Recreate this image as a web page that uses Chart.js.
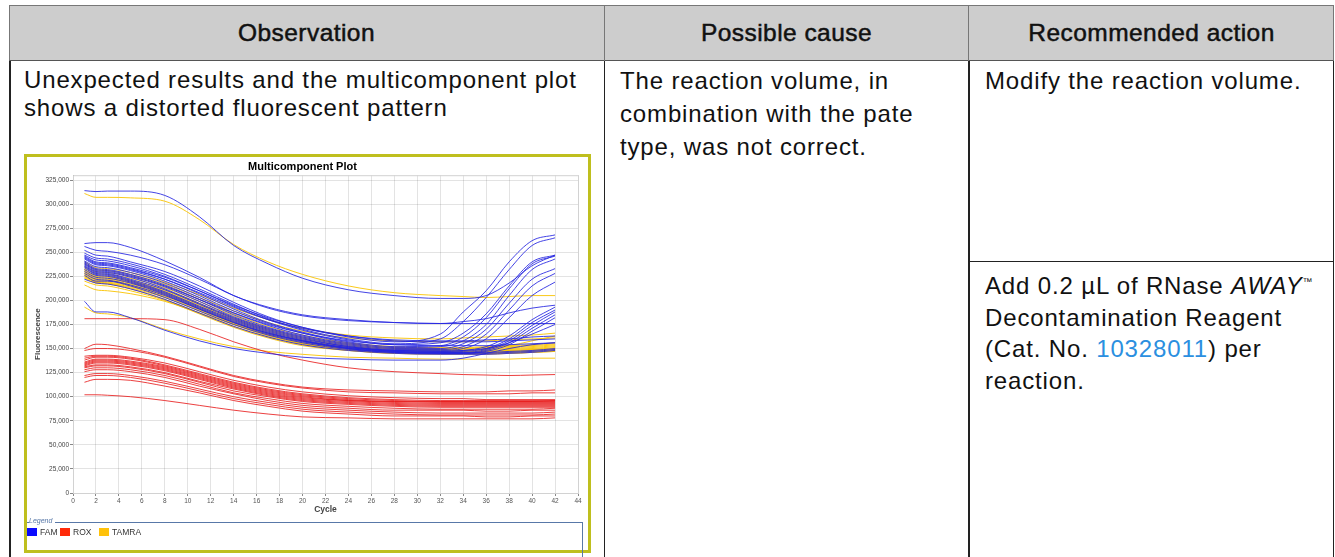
<!DOCTYPE html>
<html>
<head>
<meta charset="utf-8">
<script src="https://cdn.jsdelivr.net/npm/chart.js@4.4.1/dist/chart.umd.min.js"></script>
<style>
  html,body{margin:0;padding:0;background:#fff;}
  body{width:1335px;height:557px;position:relative;overflow:hidden;font-family:"Liberation Sans",Arial,Helvetica,sans-serif;color:#111;}
  .ln{position:absolute;background:#222;}
  .hdr{position:absolute;left:9px;top:5px;width:1325px;height:56px;background:#cdcdcd;box-sizing:border-box;border:1px solid #777;border-bottom:1.5px solid #555;}
  .ht{position:absolute;top:5px;height:56px;line-height:56px;text-align:center;font-size:24.5px;letter-spacing:0.45px;-webkit-text-stroke:0.5px #111;color:#111;}
  .bt{position:absolute;font-size:24px;letter-spacing:0.85px;color:#111;}
  .frame{position:absolute;left:24px;top:154px;width:567px;height:399px;box-sizing:border-box;border:3px solid #bfbf1e;background:#fff;}
  #cv{position:absolute;left:0;top:0;}
  .lgbox{position:absolute;left:0px;top:365px;width:556px;height:40px;box-sizing:border-box;border-top:1.5px solid #5878a8;border-right:1.5px solid #5878a8;}
  .lgtitle{position:absolute;left:2px;top:-6px;background:#fff;padding-right:3px;font-size:7px;font-style:italic;color:#5878a8;}
  .lgitem{position:absolute;top:4px;font-size:8.5px;color:#333;line-height:10px;}
  .sw{display:inline-block;width:10px;height:8px;vertical-align:-1px;margin-right:3px;}
</style>
</head>
<body>
<script>
// ---- data (fluorescence in thousands, sampled at the listed cycles) ----
const cycles = [1,2,3,5,8,11,14,17,20,24,28,32,34,36,38,40,42];
const famK = [
  [314,313,313.5,313.5,309,287,257,238,223,211,205,202,202,205,218,236,247],
  [259,260,260,255,241,224,205,193,185,180,177,176,176,176,176,176,176],
  [256,252,251,247,237,222,205,192,184,179,177,176,178,181,187,192,195],
  [199,188,188,182,169,158,150,145,141,139,138,138,140,145,150,154,156],
  [252,247,246,240,230,215,198,183,172,162,157,165,188,210,240,262,268],
  [249,244,243,238,227,212,196,181,170,160,155,160,178,203,232,257,265],
  [247,242,241,236,225,210,194,180,169,159,154,156,166,186,215,240,247],
  [245,239,238,233,222,207,191,177,167,157,152,153,162,182,212,238,246],
  [243,237,236,231,220,205,189,176,166,156,151,152,158,175,205,232,243],
  [241,235,234,229,218,203,187,174,164,155,150,150,155,170,197,222,233],
  [240,233,232,227,216,201,185,172,163,154,149,149,152,165,190,215,228],
  [238,231,230,225,214,199,183,171,162,153,148,148,150,160,182,205,219],
  [237,230,229,224,212,197,182,170,161,152,148,147,148,152,163,180,193],
  [236,229,228,222,211,196,181,169,160,152,147,146,147,150,160,177,190],
  [235,228,227,221,209,194,180,168,159,151,147,146,146,149,158,174,188],
  [234,227,226,220,208,193,179,167,158,150,146,145,145,148,156,171,185],
  [232,226,225,219,207,192,178,166,158,150,146,145,145,147,154,168,182],
  [244,238,237,232,222,208,193,180,171,163,159,158,158,159,160,162,163],
  [239,232,231,226,215,201,187,175,166,158,154,153,153,153,154,155,156],
  [246,240,239,234,224,210,195,182,172,163,158,157,157,157,158,159,160],
  [230,224,223,218,206,191,177,165,157,150,147,146,146,146,147,148,150],
  [226,220,220,215,203,189,175,164,156,149,146,145,145,145,146,147,149],
  [222,218,217,212,201,187,173,162,154,148,145,144,144,144,145,146,148],
  [228,222,221,216,205,191,177,166,158,151,148,147,148,150,156,165,175]
];
const roxK = [
  [181,181,181,181,180,170,157,146,138,130,126,124,123,122.5,122,122.5,123],
  [150,154.5,154,150,142,132,122,115,110,107,106,105,105,105,106,106,107],
  [148,150,150,148,141,131,121,114,109,105,104,103,103,103,103,104,104],
  [142,143,143,141,135,126,117,110,105,101,99,98,98,97,97,97,97],
  [140,142,142,140,133,124,115,108,103,99,97,96,96,96,96,96,96],
  [138,141,141,139,132,123,114,107,102,98,96,95,95,95,95,95,95],
  [136,139,139,137,131,122,113,106,101,97,95,95,95,95,95,95,96],
  [135,138,138,136,130,121,112,105,100,96,95,94,94,94,94,94,94],
  [134,137,137,135,129,120,111,104,99,96,94,93,93,93,93,93,93],
  [133,136,136,134,128,119,110,103,98,95,93,92,92,92,92,92,92],
  [132,135,135,133,127,118,109,102,97,94,92,91,91,91,91,91,91],
  [131,133,133,131,125,116,108,101,96,93,91,90,90,90,90,90,90],
  [130,132,132,130,124,115,106,100,95,92,90,89,89,89,89,89,89],
  [128,130,130,128,122,113,104,98,93,90,88,87,87,87,87,87,88],
  [126,128,128,126,120,111,103,96,91,88,86,86,86,85,85,86,86],
  [122,124,124,122,116,108,100,94,89,86,84,83,83,83,83,83,84],
  [120,122,122,120,114,106,98,92,87,84,82,81,81,81,81,81,82],
  [115,118,118,117,111,104,96,90,85,82,80,80,80,79,79,80,80],
  [102,102,101.5,100,96,91,86,82,79,78,77,77,77,77,77,77,78]
];
const tamraK = [
  [311,307,307,306.5,303,284,258,240,227,215,208,205,204,203,204,205,205],
  [193,187,186,182,170,160,152,147,144,141,140,139,139,139,139,140,140],
  [216,211,210,207,199,187,175,165,158,152,150,149,150,151,153,158,163],
  [235,230,229,225,215,201,186,173,164,156,152,151,151,152,153,154,156],
  [233,228,227,223,213,199,184,171,162,155,151,150,150,151,152,153,155],
  [232,226,225,221,211,197,182,170,161,154,150,149,149,150,151,152,154],
  [231,225,224,220,210,196,181,169,160,153,149,148,148,149,150,151,153],
  [230,224,223,219,209,195,180,168,159,152,148,147,147,148,149,150,152],
  [229,223,222,218,208,194,179,167,158,151,148,147,147,147,148,149,151],
  [228,222,221,217,207,193,178,166,157,151,147,146,146,146,147,148,150],
  [227,221,220,216,206,192,177,165,156,150,146,145,145,146,146,147,149],
  [226,220,219,215,205,191,176,164,156,150,146,145,145,145,146,147,148],
  [225,219,218,214,204,190,176,164,155,149,146,145,145,145,145,146,147],
  [224,219,218,213,203,189,175,163,155,149,145,144,144,144,145,146,147],
  [238,232,231,227,217,203,189,177,168,161,158,157,157,158,159,160,161],
  [240,234,233,229,219,206,192,180,171,164,161,160,161,162,163,164,166],
  [223,218,217,212,201,187,173,162,154,148,146,146,146,147,148,149,150],
  [220,216,215,210,200,186,172,161,153,148,145,145,145,146,147,148,149]
];
const seriesNames = ['FAM','ROX','TAMRA'];
const seriesColors = ['rgba(35,35,225,0.85)','rgba(232,30,30,0.85)','rgba(250,195,0,0.9)'];
const swatchColors = ['#0a0aff','#ff2a0a','#ffc20a'];
const xTicks = [0,2,4,6,8,10,12,14,16,18,20,22,24,26,28,30,32,34,36,38,40,42,44];
const yTicks = [0,25000,50000,75000,100000,125000,150000,175000,200000,225000,250000,275000,300000,325000];
const xMax = 44, yMax = 330000;
</script>

<div class="hdr"></div>
<div class="ln" style="left:603.5px;top:5px;width:1.2px;height:56px;background:#777"></div>
<div class="ln" style="left:968px;top:5px;width:1.2px;height:56px;background:#777"></div>
<div class="ht" style="left:9px;width:595px;">Observation</div>
<div class="ht" style="left:604px;width:365px;">Possible cause</div>
<div class="ht" style="left:969px;width:365px;">Recommended action</div>

<div class="ln" style="left:9px;top:61px;width:1.5px;height:496px;"></div>
<div class="ln" style="left:603.5px;top:61px;width:1.5px;height:496px;"></div>
<div class="ln" style="left:968px;top:61px;width:1.5px;height:496px;"></div>
<div class="ln" style="left:1332.5px;top:61px;width:1.5px;height:496px;"></div>
<div class="ln" style="left:968px;top:260.5px;width:366px;height:1.5px;"></div>

<div class="bt" style="left:24px;top:66px;line-height:28px;">Unexpected results and the multicomponent plot<br>shows a distorted fluorescent pattern</div>
<div class="bt" style="left:620px;top:64px;line-height:33px;">The reaction volume, in<br>combination with the pate<br>type, was not correct.</div>
<div class="bt" style="left:985px;top:64px;line-height:33px;">Modify the reaction volume.</div>
<div class="bt" style="left:985px;top:266px;line-height:31.5px;">Add 0.2 µL of RNase <i>AWAY</i><span style="font-size:10px;vertical-align:9px;letter-spacing:0">™</span><br>Decontamination Reagent<br>(Cat. No. <span style="color:#2b8fe0">10328011</span>) per<br>reaction.</div>

<div class="frame">
  <canvas id="cv" width="561" height="393"></canvas>
  <div class="lgbox">
    <div class="lgtitle">Legend</div>
    <div class="lgitem" style="left:0px;"><span class="sw" id="sw0"></span><span id="ln0"></span></div>
    <div class="lgitem" style="left:33px;"><span class="sw" id="sw1"></span><span id="ln1"></span></div>
    <div class="lgitem" style="left:72px;"><span class="sw" id="sw2"></span><span id="ln2"></span></div>
  </div>
</div>

<script>
seriesNames.forEach((n,i)=>{
  document.getElementById('sw'+i).style.background = swatchColors[i];
  document.getElementById('ln'+i).textContent = n;
});
const groups = [famK, roxK, tamraK];
const datasets = [];
groups.forEach((g, gi) => {
  g.forEach((vals, li) => {
    datasets.push({
      label: seriesNames[gi] + ' ' + (li+1),
      data: vals.map((v, k) => ({x: cycles[k], y: v * 1000})),
      borderColor: seriesColors[gi],
      borderWidth: 1,
      pointRadius: 0,
      fill: false,
      cubicInterpolationMode: 'monotone'
    });
  });
});
const plotFrame = {
  id: 'plotFrame',
  beforeDatasetsDraw(chart) {
    const {ctx, chartArea: a} = chart;
    ctx.save();
    ctx.strokeStyle = '#d2d2d2';
    ctx.lineWidth = 1;
    ctx.strokeRect(a.left + 0.5, a.top + 0.5, a.right - a.left, a.bottom - a.top);
    ctx.restore();
  }
};
Chart.defaults.font.family = '"Liberation Sans", Arial, sans-serif';
const gridOpts = { color: 'rgba(0,0,0,0.11)', borderDash: [1.5,2], tickLength: 3, tickColor: '#888', tickBorderDash: [] };
new Chart(document.getElementById('cv'), {
  type: 'line',
  data: { datasets },
  plugins: [plotFrame],
  options: {
    responsive: false,
    animation: false,
    layout: { padding: { left: 0, right: 10, top: 0, bottom: 35 } },
    plugins: {
      legend: { display: false },
      tooltip: { enabled: false },
      title: {
        display: true, text: 'Multicomponent Plot', color: '#000',
        font: { size: 11, weight: 'bold' }, padding: { top: 3, bottom: 2 }
      }
    },
    scales: {
      x: {
        type: 'linear', min: 0, max: xMax,
        afterBuildTicks(s) { s.ticks = xTicks.map(v => ({ value: v })); },
        ticks: { font: { size: 6.5 }, color: '#555', padding: 1, maxRotation: 0, autoSkip: false },
        grid: gridOpts,
        border: { color: '#999', width: 1 },
        title: { display: true, text: 'Cycle', color: '#444', font: { size: 8.5, weight: 'bold' }, padding: { top: 0, bottom: 0 } },
        afterFit(s) { s.height = 22; }
      },
      y: {
        type: 'linear', min: 0, max: yMax,
        afterBuildTicks(s) { s.ticks = yTicks.map(v => ({ value: v })); },
        ticks: { font: { size: 6.5 }, color: '#444', padding: 1, autoSkip: false,
          callback: v => v.toLocaleString('en-US') },
        grid: gridOpts,
        border: { color: '#999', width: 1 },
        title: { display: true, text: 'Fluorescence', color: '#444', font: { size: 8, weight: 'bold' }, padding: { top: 6, bottom: 2 } },
        afterFit(s) { s.width = 46; }
      }
    }
  }
});
</script>
</body>
</html>
